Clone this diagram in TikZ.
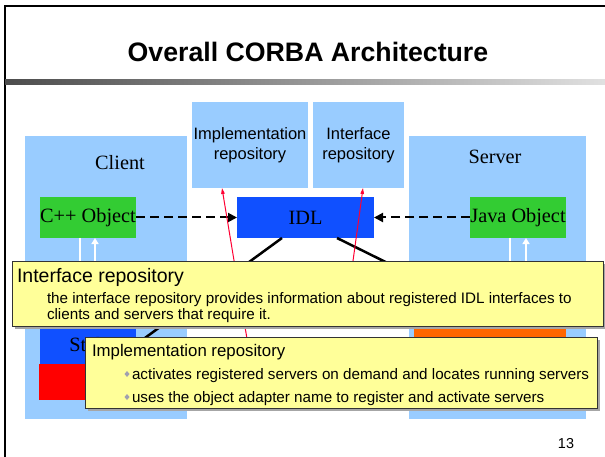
\documentclass[tikz,border=0pt]{standalone}
\usepackage{fontspec}
\setmainfont{Liberation Serif}
\setsansfont{Liberation Sans}
\usetikzlibrary{arrows.meta,shadows}
\definecolor{lb}{RGB}{153,204,255}
\definecolor{objgreen}{RGB}{51,204,51}
\definecolor{idlblue}{RGB}{16,80,255}
\definecolor{orb}{RGB}{255,0,0}
\definecolor{skelorange}{RGB}{255,102,0}
\definecolor{noteyellow}{RGB}{255,255,153}
\definecolor{redline}{RGB}{255,0,51}
\definecolor{bulletgray}{RGB}{160,160,176}
\begin{document}
\begin{tikzpicture}[x=1pt,y=-1pt,
  area/.style={fill=lb, draw=none, inner sep=0pt, outer sep=0pt},
  blk/.style={draw=none, inner sep=0pt, outer sep=0pt, font=\fontsize{20.3}{24}\selectfont},
  repo/.style={fill=lb, draw=none, inner sep=0pt, outer sep=0pt, align=center,
     font=\sffamily\fontsize{16.5}{20}\selectfont},
  note/.style={fill=noteyellow, draw=black!80, line width=0.8pt, inner sep=0pt, outer sep=0pt,
     drop shadow={shadow xshift=2.5pt, shadow yshift=-2.5pt, fill=black!35, opacity=1}},
  txt/.style={inner sep=0pt, outer sep=0pt, anchor=base west},
  dasharrow/.style={line width=2pt, dash pattern=on 9pt off 5pt, -{Triangle[length=9pt,width=9pt]}},
  warrow/.style={white, line width=2pt, -{Triangle[length=6pt,width=7pt]}},
  wline/.style={white, line width=2pt},
  blkline/.style={black, line width=2.5pt},
  redarrow/.style={redline, line width=1pt, -{Triangle[length=6pt,width=3.5pt]}},
  bullet/.style={fill=bulletgray, draw=none}
]
\useasboundingbox (0,0) rectangle (605,457);
\fill[white] (0,0) rectangle (605,457);

% slide frame and title
\draw[line width=2pt] (5,457) -- (5,6) -- (605,6);
\shade[left color=black!70, right color=black!12] (5,80) rectangle (605,85);
\node[inner sep=0pt, anchor=base] (title) at (308,62)
  {\sffamily\bfseries\fontsize{26.7}{32}\selectfont Overall CORBA Architecture};

% large areas
\node[area, minimum width=162pt, minimum height=283pt] (client) at (106,277.5) {};
\node[area, minimum width=177pt, minimum height=283pt] (server) at (497.5,277.5) {};
\node[blk] (clientlbl) at (120,163) {Client};
\node[blk] (serverlbl) at (495,157) {Server};

\node[repo, minimum width=116pt, minimum height=86pt] (implrep) at (250,145)
  {Implementation\\repository};
\node[repo, minimum width=91pt, minimum height=86pt] (intrep) at (358.5,145)
  {Interface\\repository};

% inner boxes
\node[blk, fill=objgreen, minimum width=96pt, minimum height=41pt] (cpp) at (88,217.5) {C++ Object};
\node[blk, fill=idlblue, minimum width=137pt, minimum height=41pt] (idl) at (305.5,217.5) {IDL};
\node[blk, fill=objgreen, minimum width=96pt, minimum height=41pt] (java) at (518,217.5) {Java Object};
\node[blk, fill=idlblue, minimum width=96pt, minimum height=39pt] (stub) at (88,344.5) {Stub};
\node[blk, fill=orb, minimum width=97pt, minimum height=36pt] (orbbox) at (87.5,382) {};
\node[blk, fill=skelorange, minimum width=152pt, minimum height=41pt] (skel) at (490,343.5) {};

% connectors
\draw[dasharrow] (cpp.east) -- (idl.west);
\draw[dasharrow] (java.west) -- (idl.east);

\path ([xshift=-8pt]cpp.south) coordinate (cd1) ([xshift=7pt]cpp.south) coordinate (cu1);
\draw[wline] (cd1) -- (cd1 |- stub.north);
\draw[warrow] (cu1 |- stub.north) -- (cu1);
\path ([xshift=-8pt]java.south) coordinate (jd1) ([xshift=8pt]java.south) coordinate (ju1);
\draw[wline] (jd1) -- (jd1 |- skel.north);
\draw[warrow] (ju1 |- skel.north) -- (ju1);

\coordinate (rbend) at (420,279);
\draw[blkline] ([xshift=-23.5pt]idl.south) -- (stub.east);
\draw[blkline] ([xshift=31.5pt]idl.south) -- (rbend);

\coordinate (redL) at (253,375);
\coordinate (redR) at (346,312);
\draw[redarrow] (redL) -- ([xshift=-28pt]implrep.south);
\draw[redarrow] (redR) -- ([xshift=4.5pt]intrep.south);

% callout 1
\node[note, minimum width=591pt, minimum height=65pt] (note1) at (307.5,293.5) {};
\node[txt] (n1title) at (17,282) {\sffamily\fontsize{19.5}{22}\selectfont Interface repository};
\node[txt] (n1a) at (47,303) {\sffamily\fontsize{15.2}{18}\selectfont the interface repository provides information about registered IDL interfaces to};
\node[txt] (n1b) at (47,319) {\sffamily\fontsize{15.2}{18}\selectfont clients and servers that require it.};

% callout 2
\node[note, minimum width=512pt, minimum height=71pt] (note2) at (341,372.5) {};
\node[txt] (n2title) at (92,356) {\sffamily\fontsize{16.8}{20}\selectfont Implementation repository};
\fill[bullet] (127,371) -- (129.5,374) -- (127,377) -- (124.5,374) -- cycle;
\fill[bullet] (127,394) -- (129.5,397) -- (127,400) -- (124.5,397) -- cycle;
\node[txt] (n2a) at (132,379) {\sffamily\fontsize{15.2}{18}\selectfont activates registered servers on demand and locates running servers};
\node[txt] (n2b) at (132,402) {\sffamily\fontsize{15.2}{18}\selectfont uses the object adapter name to register and activate servers};

% page number
\node[inner sep=0pt, anchor=base] (pagenum) at (566,448) {\sffamily\fontsize{14.4}{17}\selectfont 13};
\end{tikzpicture}
\end{document}
